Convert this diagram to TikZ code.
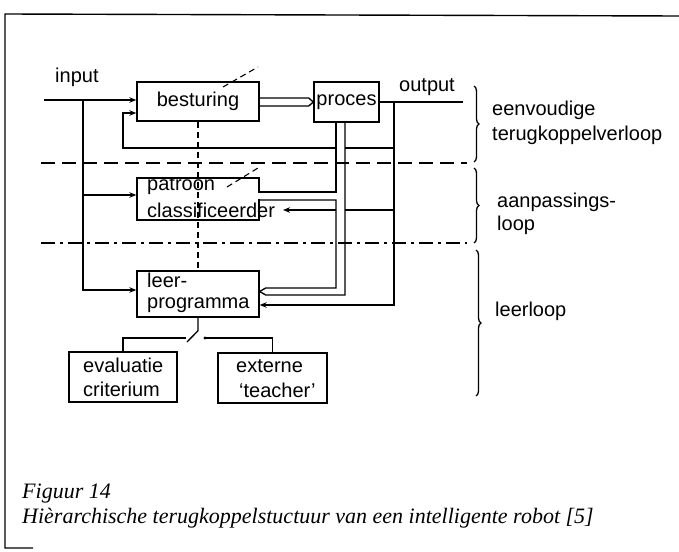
\documentclass[tikz,border=0pt]{standalone}
\usepackage{fontspec}
\setmainfont{Liberation Sans}
\newfontfamily\capfont{Liberation Serif}
\usetikzlibrary{arrows.meta,decorations.pathreplacing}
\begin{document}
\begin{tikzpicture}[x=1pt,y=-1pt,
  ln/.style={line width=1.35pt},
  boxn/.style={draw,line width=1.35pt,inner sep=0pt},
  lbl/.style={font=\fontsize{20}{24}\selectfont,inner sep=0pt},
  tip/.style={-{Stealth[length=7pt,width=5.5pt]}},
  dsh/.style={line width=1.1pt,dash pattern=on 14pt off 7pt},
  dshdot/.style={line width=1.1pt,dash pattern=on 14pt off 5pt on 3pt off 5pt},
  vd/.style={line width=1.1pt,dash pattern=on 6pt off 4pt},
  brc/.style={decorate,decoration={brace,amplitude=5pt},line width=1.3pt},
  captxt/.style={anchor=base west,inner sep=0pt,font=\capfont\itshape\fontsize{22}{26}\selectfont}]
\useasboundingbox (0,0) rectangle (679,551);

% frame
\draw[line width=1.4pt] (679,16) -- (5,14) -- (5,548) -- (33,548);

% boxes
\node[boxn,lbl,minimum width=122pt,minimum height=39pt] (bes) at (198,101.5) {besturing};
\node[boxn,lbl,minimum width=65pt,minimum height=40pt] (proc) at (346.5,102) {proces};
\node[boxn,minimum width=122pt,minimum height=42pt] (pc) at (198,199) {};
\node[lbl,anchor=base west] (pct1) at (147,190) {patroon};
\node[lbl,anchor=base west] (pct2) at (147,217) {classificeerder};
\node[boxn,minimum width=122pt,minimum height=46pt] (leer) at (198,294) {};
\node[lbl,anchor=base west] (lt1) at (147,287) {leer-};
\node[lbl,anchor=base west] (lt2) at (147,308) {programma};
\node[boxn,minimum width=108pt,minimum height=50pt] (eval) at (123,377) {};
\node[lbl,anchor=base west] (et1) at (83,372) {evaluatie};
\node[lbl,anchor=base west] (et2) at (83,396) {criterium};
\node[boxn,minimum width=109pt,minimum height=50pt] (ext) at (272.5,378) {};
\node[lbl,anchor=base west] (xt1) at (236,372) {externe};
\node[lbl,anchor=base west] (xt2) at (239,397) {‘teacher’};

% labels
\node[lbl,anchor=base west] (inlbl) at (55,82) {input};
\node[lbl,anchor=base west] (outlbl) at (399,91) {output};
\node[lbl,anchor=base west] (r1a) at (492,115) {eenvoudige};
\node[lbl,anchor=base west] (r1b) at (492,140) {terugkoppelverloop};
\node[lbl,anchor=base west] (r2a) at (497,207) {aanpassings-};
\node[lbl,anchor=base west] (r2b) at (497,230) {loop};
\node[lbl,anchor=base west] (r3) at (495,316) {leerloop};

% opening in the right side of the patroon box where the pipe enters
\coordinate (pcN1) at ([yshift=7pt]pc.east);
\coordinate (pcN2) at ([yshift=-1pt]pc.east);
\draw[white,line width=2.4pt] ([yshift=-0.8pt]pcN1) -- ([yshift=0.8pt]pcN2);

% input
\coordinate (inL) at (44,100);
\coordinate (inJ) at (83,100);
\coordinate (pcin) at ([yshift=4pt]pc.west);
\draw[ln,tip] (inL) -- (inL -| bes.west);
\draw[ln,tip] (inJ) |- ([yshift=4pt]leer.west);
\draw[ln,tip] (inJ |- pcin) -- (pcin);

% besturing -> proces double line
\draw[ln] ([yshift=3.5pt]bes.east) -- ++(49,0) -- (proc.west);
\draw[ln] ([yshift=-4.5pt]bes.east) -- ++(49,0) -- (proc.west);

% output
\coordinate (outE) at (463,102);
\coordinate (oJ) at (394,102);
\draw[ln] (proc.east) -- (outE);
\draw[ln,tip] (oJ) |- ([yshift=-11pt]leer.east);

% pipe from proces
\coordinate (pA) at ([xshift=-10.5pt]proc.south);
\coordinate (pB) at ([xshift=-1.5pt]proc.south);
\coordinate (lTip) at ([yshift=2.5pt]leer.east);
\coordinate (lU) at ([xshift=6pt,yshift=3.5pt]lTip);
\coordinate (lD) at ([xshift=6pt,yshift=-3.5pt]lTip);
\draw[ln] (pA) |- (pcN1);
\draw[ln] (pcN2) -| (pA |- lU) -- (lU) -- (lTip);
\draw[ln] (pB) |- (lD) -- (lTip);

% feedback to besturing
\coordinate (fbY) at (123,148);
\draw[ln] (oJ |- fbY) -- (pB |- fbY);
\draw[ln,tip] (pA |- fbY) -- (fbY) |- ([yshift=-11.5pt]bes.west);

% feedback to classificeerder
\coordinate (clT) at (283,210);
\draw[ln] (oJ |- clT) -- (pB |- clT);
\draw[ln,tip] (pA |- clT) -- (clT);

% dashed marks
\coordinate (dg1a) at (223,87);
\coordinate (dg1b) at (258,67);
\coordinate (dg2a) at (227,187);
\coordinate (dg2b) at (258,168);
\draw[vd] (dg1a) -- (dg1b);
\draw[vd] (dg2a) -- (dg2b);
\draw[vd] (bes.south) -- (leer.north);

\coordinate (d1L) at (41,163);
\coordinate (d1R) at (467,163);
\coordinate (d2L) at (41,243);
\coordinate (d2R) at (467,243);
\draw[dsh] (d1L) -- (d1R);
\draw[dshdot] (d2L) -- (d2R);

% braces
\coordinate (b1t) at (474,86);
\coordinate (b1b) at (474,162);
\coordinate (b2t) at (474,168);
\coordinate (b2b) at (474,243);
\coordinate (b3t) at (476,250);
\coordinate (b3b) at (476,396);
\draw[brc] (b1t) -- (b1b);
\draw[brc] (b2t) -- (b2b);
\draw[brc] (b3t) -- (b3b);

% switch
\coordinate (sw1) at ([yshift=-13pt]leer.south);
\coordinate (sw2) at (187,342);
\coordinate (evJ) at (186,338);
\coordinate (xJ) at (205,338);
\draw[ln] (leer.south) -- (sw1) -- (sw2);
\draw[ln] (eval.north) |- (evJ);
\fill (xJ) circle (1.7pt);
\draw[ln] (xJ) -| (ext.north);

% caption
\node[captxt] (cap1) at (22,498) {Figuur 14};
\node[captxt] (cap2) at (22,523) {Hièrarchische terugkoppelstuctuur van een intelligente robot [5]};
\end{tikzpicture}
\end{document}
